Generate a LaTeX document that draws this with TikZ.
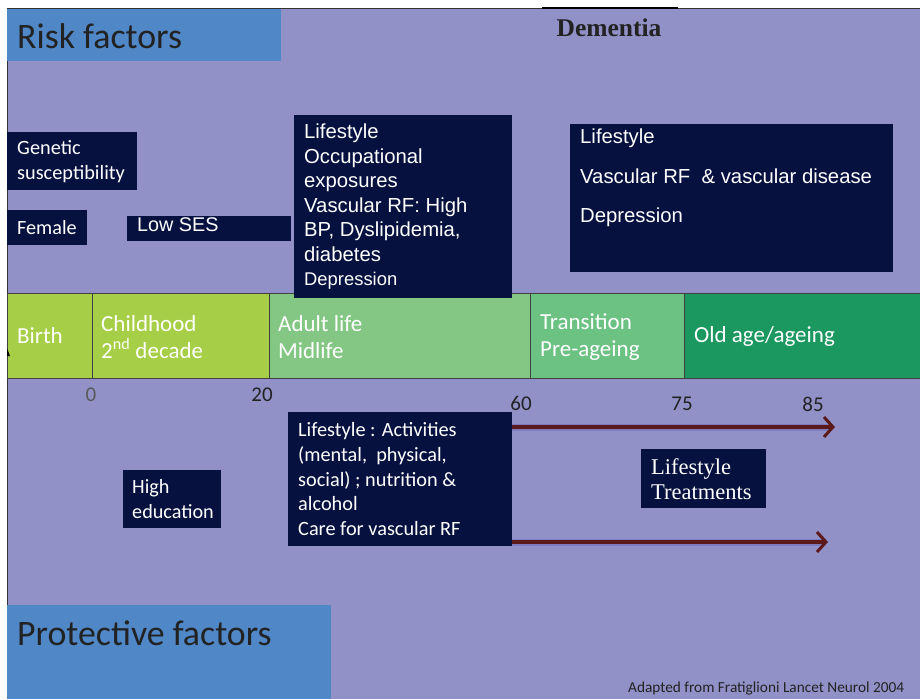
\documentclass[tikz,border=0pt]{standalone}
\usepackage{fontspec}
\setmainfont{Carlito}
\newfontfamily\arialf{Liberation Sans}
\newfontfamily\serff{Liberation Serif}
\usetikzlibrary{arrows.meta}
\definecolor{bg}{HTML}{9191C8}
\definecolor{navy}{HTML}{061140}
\definecolor{hdr}{HTML}{4F87C7}
\definecolor{lime}{HTML}{A6CE46}
\definecolor{adult}{HTML}{84C784}
\definecolor{trans}{HTML}{6CC283}
\definecolor{old}{HTML}{1B985F}
\definecolor{arrowred}{HTML}{5C1A1A}
\definecolor{glow}{HTML}{6E6EB8}
\definecolor{txt}{HTML}{222222}
\begin{document}
\begin{tikzpicture}[x=1pt,y=-1pt,
  darkbox/.style={fill=navy, text=white, inner xsep=10pt, inner ysep=0pt, anchor=north west, align=flush left},
  hdrbox/.style={fill=hdr, inner sep=0pt, anchor=north west},
  seg/.style={draw=black!75, line width=0.8pt, anchor=north west, minimum height=85pt, inner sep=0pt},
  segtext/.style={text=white, anchor=west, align=flush left, font=\fontsize{23}{27}\selectfont, inner sep=0pt},
  agenum/.style={text=txt, inner sep=0pt, font=\fontsize{21}{21}\selectfont},
  hdrtext/.style={text=txt, anchor=west, inner sep=0pt, font=\fontsize{35.8}{36}\selectfont},
  protarrow/.style={arrowred, line width=3.5pt, -{Straight Barb[length=9pt,width=20pt,line width=3pt]}},
  glowline/.style={glow, line width=7pt, opacity=0.6}
]
\useasboundingbox (0,0) rectangle (920,699);
\fill[white] (0,0) rectangle (920,699);
\fill[bg] (7,8) rectangle (920,699);
\draw[black!80, line width=1pt] (7,8.5) -- (920,8.5);
\draw[black!80, line width=1pt] (7.5,8) -- (7.5,699);
\draw[black, line width=2.5pt] (542,8) -- (678,8);

% headers
\node[hdrbox, minimum width=274pt, minimum height=52pt] (riskbox) at (7,9) {};
\node[hdrtext] (risktext) at (17,36) {Risk factors};
\node[hdrbox, minimum width=324pt, minimum height=94pt] (protbox) at (7,605) {};
\node[hdrtext] (prottext) at (17,633) {Protective factors};
\node[text=txt, inner sep=0pt, font=\serff\bfseries\fontsize{25.5}{25.5}\selectfont] (dementia) at (609,28) {Dementia};

% risk factor boxes
\node[darkbox, minimum width=130pt, minimum height=58pt, text width=110pt, font=\fontsize{20.3}{25}\selectfont] (genetic) at (7,132) {Genetic\\susceptibility};
\node[darkbox, minimum width=80pt, minimum height=35pt, text width=60pt, font=\fontsize{20.2}{25}\selectfont] (female) at (7,210) {Female};
\node[darkbox, minimum width=164pt, minimum height=25pt] (lowses) at (127,216) {};
\node[text=white, anchor=west, inner sep=0pt, font=\arialf\fontsize{19.8}{24}\selectfont] (lowsestext) at (137,225) {Low SES};

% timeline
\node[seg, fill=lime, minimum width=85pt] (sbirth) at (7,293) {};
\node[seg, fill=lime, minimum width=177pt] (schild) at (92,293) {};
\node[seg, fill=adult, minimum width=261pt] (sadult) at (269,293) {};
\node[seg, fill=trans, minimum width=154pt] (strans) at (530,293) {};
\node[seg, fill=old, minimum width=236pt] (sold) at (684,293) {};
\fill[black] (7,348) -- (10,356) -- (7,356) -- cycle;
\node[segtext] (tbirth) at (17,336) {Birth};
\node[segtext] (tchild) at (101,337) {Childhood\\2\textsuperscript{nd} decade};
\node[segtext] (tadult) at (278,337) {Adult life\\Midlife};
\node[segtext] (ttrans) at (540,337) {Transition\\Pre-ageing};
\node[segtext] (told) at (694,336) {Old age/ageing};

% upper middle box (over timeline)
\node[darkbox, minimum width=218pt, minimum height=183pt, text width=198pt, font=\arialf\fontsize{20.3}{24.5}\selectfont] (midrisk) at (294,115) {Lifestyle\\Occupational\\exposures\\Vascular RF: High\\BP, Dyslipidemia,\\diabetes\\{\fontsize{18.4}{24.5}\selectfont Depression}};

% right risk box
\node[darkbox, minimum width=323pt, minimum height=148pt] (rightrisk) at (570,124) {};
\node[text=white, anchor=north west, inner sep=0pt, align=flush left, text width=315pt, font=\arialf\fontsize{20.3}{39.5}\selectfont] (rightrisktext) at (580,129) {Lifestyle\\Vascular RF\ \ \& vascular disease\\Depression};

% age numbers
\node[agenum, text=black!65] (n0) at (91,395) {0};
\node[agenum] (n20) at (262,395) {20};
\node[agenum] (n60) at (521,403) {60};
\node[agenum] (n75) at (682,404) {75};
\node[agenum] (n85) at (813,404) {85};

% arrows
\coordinate (a1s) at (505,427);
\coordinate (a1e) at (835,427);
\coordinate (a2s) at (505,542);
\coordinate (a2e) at (828,542);
\draw[glowline] (a1s) -- ([xshift=-4pt]a1e);
\draw[glowline] (a2s) -- ([xshift=-4pt]a2e);
\draw[protarrow] (a1s) -- (a1e);
\draw[protarrow] (a2s) -- (a2e);

% protective boxes
\node[darkbox, minimum width=224pt, minimum height=134pt, text width=204pt, font=\fontsize{20.3}{24.7}\selectfont] (midprot) at (288,412) {Lifestyle : Activities\\(mental,\ \ physical,\\social) ; nutrition \&\\alcohol\\Care for vascular RF};
\node[darkbox, minimum width=98pt, minimum height=58pt, text width=80pt, inner xsep=9pt, font=\fontsize{20.2}{24.5}\selectfont] (highedu) at (123,470) {High\\education};
\node[darkbox, minimum width=123pt, minimum height=59pt, text width=105pt, inner xsep=10pt, font=\serff\fontsize{22.5}{25}\selectfont] (treat) at (641,449) {Lifestyle\\Treatments};

\node[text=txt, anchor=west, inner sep=0pt, font=\fontsize{15.3}{15.3}\selectfont] (adapted) at (628,688) {Adapted from Fratiglioni Lancet Neurol 2004};
\end{tikzpicture}
\end{document}
